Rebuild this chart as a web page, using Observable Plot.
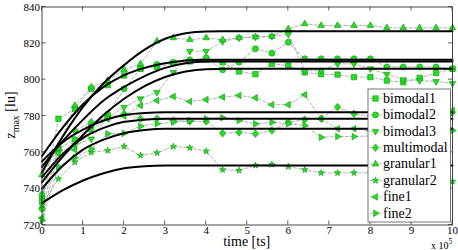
<!DOCTYPE html>
<html><head><meta charset="utf-8">
<script src="https://cdn.jsdelivr.net/npm/d3@7"></script>
<script src="https://cdn.jsdelivr.net/npm/@observablehq/plot@0.6"></script>
<style>
body{margin:0;background:#fff;}
#chart{width:458px;height:250px;}
#chart svg text{font-family:"Liberation Serif","Times New Roman","DejaVu Serif",serif;}
</style></head><body><div id="chart"></div>
<script>
// ---- data (x in units of 10^5 ts) ----
const times = [0,0.4,0.8,1.2,1.6,2.0,2.4,2.8,3.2,3.6,4.0,4.4,4.8,5.2,5.6,6.0,6.4,6.8,7.2,7.6,8.0,8.4,8.8,9.2,9.6,10.0];
const seriesNames = ["bimodal1","bimodal2","bimodal3","multimodal","granular1","granular2","fine1","fine2"];
const bimodal1  = [733.5,778.5,784,795,797,802.3,806,807,809,810,811,809.6,804.5,803,808.7,807.8,804,803,802.8,801.4,801.4,799.5,798.6,801,803.6,806];
const bimodal2  = [729,762,767,774.8,781,795,806,808.4,809.6,811,812,805.4,809.6,817,814.6,820.6,811.5,811.5,811.5,811.5,811.5,807,807,807,807,806];
const bimodal3  = [735,760,764,767.4,779,784.8,789.5,793,804,815.7,815.7,821,823,823.5,823.8,825,805,805,808.7,808.7,806,803,800,799.5,799,798];
const multimodal= [737,763,772,776.6,779,781.2,778.5,778.5,777.5,777,777,770.5,771,770.2,772,776.6,778,778.5,784.9,781.2,780,780,781,782,782,782];
const granular1 = [747.6,762,785.8,795.9,799.5,805.4,808.7,821.2,823,822,823,822,823,823.5,823.8,828,830.7,829.8,829.8,829.8,829.8,828.5,828.5,828.5,828.5,828.5];
const granular2 = [731,745.4,754.6,760,761,763.2,758.3,759.7,763.2,762.5,760.6,750.4,750,752.8,753.3,752.2,750.4,748.7,748.7,748.7,748.7,748,747,746,745,744];
const fine1     = [724,759.5,761.4,772,778.5,780,785.8,788.5,790.7,788,789,790.4,791.3,790,786.2,786.2,791.7,778.5,773,773,772,775,778,780,782,783];
const fine2     = [722.5,752,757,761.9,770.2,770.5,774.4,775.7,776.6,777.5,778.5,779,777.5,775.7,776.6,775.7,774.8,768.3,768.7,768.7,769,770,771,771,772,772];

// fitted curves
const fitX = [0,0.5,1,1.5,2,2.5,3,3.5,4,4.5,5,10];
const fitBimodal1  = [743.6,757.5,769.5,780.5,789.5,796.5,801.5,804.5,805.8,806,806,806];
const fitBimodal2  = [758,773.5,786.5,796,802.5,806.5,809,810.5,811,811,811,811];
const fitBimodal3  = [752,766,778,788.5,796,802,806.5,809,810,810,810,810];
const fitMultimodal= [746.3,759,768,773.5,776.8,778,778.5,778.5,778.5,778.5,778.5,778.5];
const fitGranular1 = [749,768.5,785,798,808,816.5,822.5,825.5,826.5,826.6,826.6,826.6];
const fitGranular2 = [732,739,744.5,748.5,751.2,752.4,752.8,752.8,752.8,752.8,752.8,752.8];
const fitFine1     = [755,765.5,772.5,777.5,780.5,781.7,782,782,782,782,782,782];
const fitFine2     = [740,752.5,761.5,767,770.5,772.3,773,773,773,773,773,773];

const xTicks = [0,1,2,3,4,5,6,7,8,9,10];
const yTicks = [720,740,760,780,800,820,840];

// ---- symbols ----
function triangle(angleDeg){
  return {draw(ctx){
    const R = 3.8;
    for (let k=0;k<3;k++){
      const a = (angleDeg + 120*k)*Math.PI/180;
      const px = R*Math.cos(a), py = R*Math.sin(a);
      if (k===0) ctx.moveTo(px,py); else ctx.lineTo(px,py);
    }
    ctx.closePath();
  }};
}
const diamondSym = {draw(ctx){ ctx.moveTo(0,-3.8); ctx.lineTo(3.1,0); ctx.lineTo(0,3.8); ctx.lineTo(-3.1,0); ctx.closePath(); }};
const squareSym = {draw(ctx){ ctx.rect(-2.7,-2.7,5.4,5.4); }};
const circleSym = {draw(ctx){ ctx.moveTo(3,0); ctx.arc(0,0,3,0,2*Math.PI); }};
const starSym = {draw(ctx){
  const Ro=3.4, Ri=1.4;
  for (let k=0;k<10;k++){
    const r = k%2===0 ? Ro : Ri;
    const a = (-90 + 36*k)*Math.PI/180;
    const px=r*Math.cos(a), py=r*Math.sin(a);
    if(k===0) ctx.moveTo(px,py); else ctx.lineTo(px,py);
  }
  ctx.closePath();
}};
const symbols = {
  bimodal1: squareSym, bimodal2: circleSym, bimodal3: triangle(90),
  multimodal: diamondSym, granular1: triangle(-90), granular2: starSym,
  fine1: triangle(180), fine2: triangle(0)
};
const seriesValues = {bimodal1,bimodal2,bimodal3,multimodal,granular1,granular2,fine1,fine2};
const fitValues = {bimodal1:fitBimodal1,bimodal2:fitBimodal2,bimodal3:fitBimodal3,multimodal:fitMultimodal,
  granular1:fitGranular1,granular2:fitGranular2,fine1:fitFine1,fine2:fitFine2};

const rows = seriesNames.flatMap(name => seriesValues[name].map((v,i)=>({name, t: times[i], z: v})));
const fitRows = seriesNames.flatMap(name => fitValues[name].map((v,i)=>({name, t: fitX[i], z: v})));

const GREEN_FILL = "#22e022", GREEN_EDGE = "#0a960a";
const FONT = '"Liberation Serif", "Times New Roman", "DejaVu Serif", serif';

const marks = [
  Plot.axisX(xTicks, {tickSize: 0, tickPadding: 1, fontSize: 11, label: null, tickFormat: d => String(d)}),
  Plot.axisY(yTicks, {tickSize: 0, tickPadding: 2, fontSize: 11, label: null, tickFormat: d => String(d)}),
  Plot.line(rows, {x: "t", y: "z", z: "name", stroke: "#a0a0a0", strokeWidth: 0.8, strokeDasharray: "3,2"}),
  ...seriesNames.map(name => Plot.dot(rows.filter(d => d.name === name), {
    x: "t", y: "z", symbol: symbols[name], r: 3, fill: GREEN_FILL, stroke: GREEN_EDGE, strokeWidth: 0.6
  })),
  Plot.line(fitRows, {x: "t", y: "z", z: "name", stroke: "#000", strokeWidth: 2, curve: "monotone-x"}),
  Plot.frame({stroke: "#333", strokeWidth: 0.9})
];

const plot = Plot.plot({
  width: 458, height: 250,
  marginLeft: 41.5, marginRight: 6, marginTop: 6.5, marginBottom: 25.5,
  x: {domain: [0, 10]},
  y: {domain: [720, 840]},
  style: {fontFamily: FONT, fontSize: "11px", background: "white", color: "#000"},
  marks
});
document.getElementById("chart").appendChild(plot);

// ---- extras: inward ticks, labels, legend ----
const svg = d3.select(plot);
const sx = plot.scale("x"), sy = plot.scale("y");
const X0 = sx.apply(0), X1 = sx.apply(10), Y0 = sy.apply(720), Y1 = sy.apply(840);
const tg = svg.append("g").attr("stroke", "#333").attr("stroke-width", 0.8);
xTicks.forEach(t => {
  const x = sx.apply(t);
  tg.append("line").attr("x1", x).attr("x2", x).attr("y1", Y0).attr("y2", Y0 - 4);
  tg.append("line").attr("x1", x).attr("x2", x).attr("y1", Y1).attr("y2", Y1 + 4);
});
yTicks.forEach(t => {
  const y = sy.apply(t);
  tg.append("line").attr("x1", X0).attr("x2", X0 + 4).attr("y1", y).attr("y2", y);
  tg.append("line").attr("x1", X1).attr("x2", X1 - 4).attr("y1", y).attr("y2", y);
});

svg.append("text").attr("x", (X0 + X1) / 2).attr("y", 246).attr("text-anchor", "middle")
  .attr("font-size", 14).attr("fill", "#000").text("time [ts]");

const ex = svg.append("text").attr("x", 431).attr("y", 248.5).attr("text-anchor", "start")
  .attr("font-size", 10).attr("fill", "#000");
ex.append("tspan").text("x 10");
ex.append("tspan").attr("dy", -5).attr("font-size", 7.5).text("5");

const yl = svg.append("text").attr("transform", "translate(15,115) rotate(-90)").attr("text-anchor", "middle")
  .attr("font-size", 14).attr("fill", "#000");
yl.append("tspan").text("z");
yl.append("tspan").attr("dy", 4).attr("font-size", 10).text("max");
yl.append("tspan").attr("dy", -4).text(" [lu]");

// legend (opaque box on top of the data)
const lg = svg.append("g");
lg.append("rect").attr("x", 368).attr("y", 89).attr("width", 82.5).attr("height", 133)
  .style("fill", "#ffffff").style("stroke", "#555").style("stroke-width", 0.8);
seriesNames.forEach((name, k) => {
  const y = 98.5 + 16.4 * k;
  lg.append("line").attr("x1", 369.5).attr("x2", 381.5).attr("y1", y).attr("y2", y)
    .style("stroke", "#a0a0a0").style("stroke-width", 0.8).style("stroke-dasharray", "3,2");
  lg.append("path").attr("d", d3.symbol(symbols[name])()).attr("transform", `translate(375.5,${y})`)
    .style("fill", GREEN_FILL).style("stroke", GREEN_EDGE).style("stroke-width", 0.6);
  lg.append("text").attr("x", 383).attr("y", y + 4.3).attr("text-anchor", "start").attr("font-size", 14)
    .style("fill", "#000").text(name);
});
</script>
</body></html>
